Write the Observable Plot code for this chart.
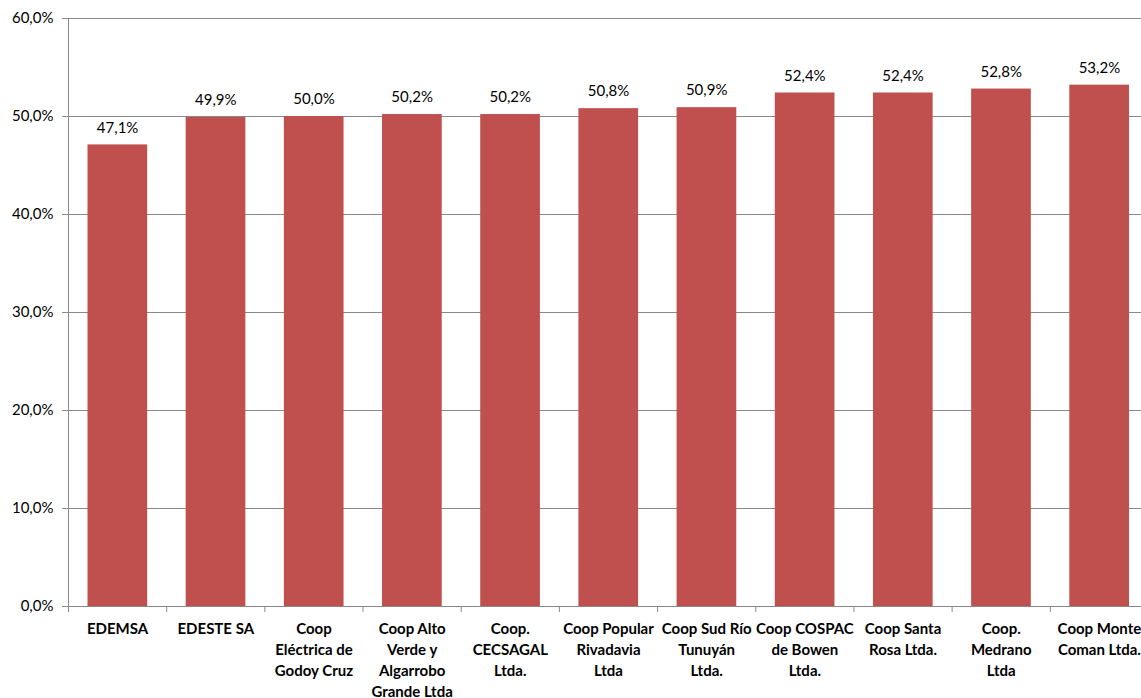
<!DOCTYPE html>
<html>
<head>
<meta charset="utf-8">
<script src="https://cdn.jsdelivr.net/npm/d3@7"></script>
<script src="https://cdn.jsdelivr.net/npm/@observablehq/plot@0.6"></script>
<style>
  html, body { margin: 0; padding: 0; background: #fff; overflow: hidden; }
  #chart svg { display: block; }
</style>
</head>
<body>
<div id="chart"></div>
<script>
const categories = [
  "EDEMSA",
  "EDESTE SA",
  "Coop\nEléctrica de\nGodoy Cruz",
  "Coop Alto\nVerde y\nAlgarrobo\nGrande Ltda",
  "Coop.\nCECSAGAL\nLtda.",
  "Coop Popular\nRivadavia\nLtda",
  "Coop Sud Río\nTunuyán\nLtda.",
  "Coop COSPAC\nde Bowen\nLtda.",
  "Coop Santa\nRosa Ltda.",
  "Coop.\nMedrano\nLtda",
  "Coop Monte\nComan Ltda."
];
const values = [47.1, 49.9, 50.0, 50.2, 50.2, 50.8, 50.9, 52.4, 52.4, 52.8, 53.2];
const yTicks = [0, 10, 20, 30, 40, 50, 60];

const rows = categories.map((c, i) => ({i, c, v: values[i]}));
const fmt = d => d.toFixed(1).replace(".", ",") + "%";
const gray = "#898989";
const font = "Lato, 'Open Sans', sans-serif";

const chart = Plot.plot({
  width: 1141,
  height: 698,
  marginLeft: 68,
  marginTop: 18,
  marginBottom: 92,
  marginRight: 0,
  style: {fontFamily: font, fontSize: "15px", color: "#000", background: "#fff"},
  x: {type: "linear", domain: [0, categories.length], range: [68, 1148], axis: null},
  y: {domain: [0, 60], axis: null},
  marks: [
    Plot.gridY(yTicks, {stroke: gray, strokeOpacity: 1}),
    Plot.rectY(rows, {x1: d => d.i, x2: d => d.i + 1, y: "v", fill: "#C0504D", insetLeft: 19.5, insetRight: 19}),
    Plot.ruleX([0], {y1: 0, y2: 60, stroke: gray}),
    Plot.axisY(yTicks, {label: null, tickFormat: fmt, tickSize: 6, tickPadding: 9, stroke: gray, fill: "#000", fontSize: 15}),
    Plot.axisX(d3.range(categories.length + 1), {label: null, tickFormat: () => "", tickSize: 6, stroke: gray, anchor: "bottom"}),
    Plot.text(rows, {x: d => d.i + 0.5, y: "v", text: d => fmt(d.v), dy: -17, fill: "#000", fontSize: 15}),
    Plot.text(rows, {x: d => d.i + 0.5, y: () => 0, text: "c", lineAnchor: "top", dy: 13, lineHeight: 1.4, fontWeight: "bold", fill: "#000", fontSize: 15})
  ]
});
document.getElementById("chart").appendChild(chart);
</script>
</body>
</html>
